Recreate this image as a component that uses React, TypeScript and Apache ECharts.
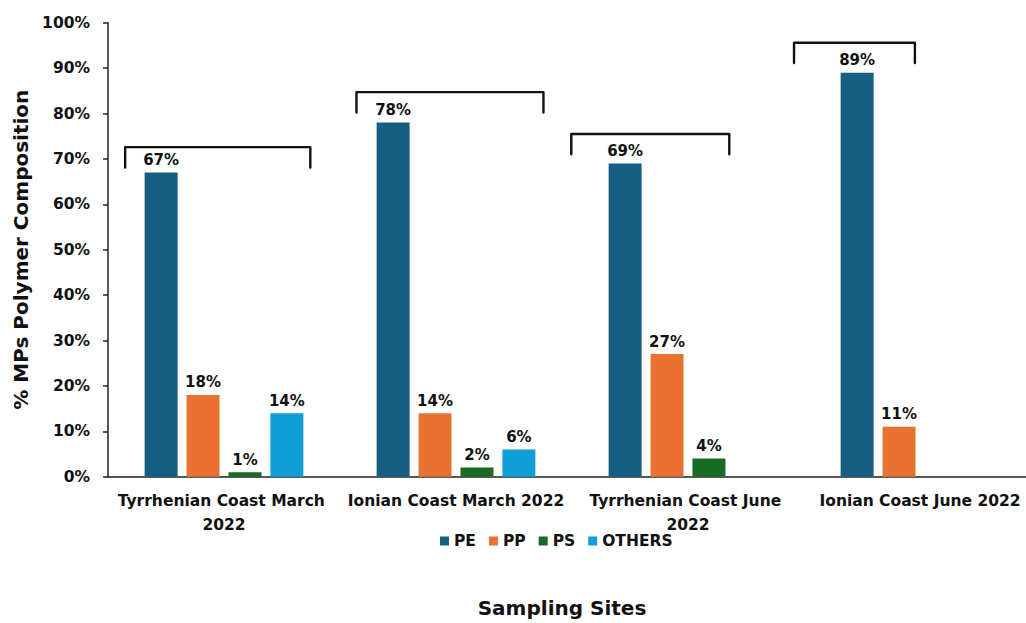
import React, { useEffect, useRef } from "react";
import * as echarts from "echarts";

// Sampling sites (x categories)
const sites = [
  "Tyrrhenian Coast March 2022",
  "Ionian Coast March 2022",
  "Tyrrhenian Coast June 2022",
  "Ionian Coast June 2022",
];

// Polymer composition (%) per site; null = polymer not found
const pe = [67, 78, 69, 89];
const pp = [18, 14, 27, 11];
const ps = [1, 2, 4, null];
const others = [14, 6, null, null];

const seriesNames = ["PE", "PP", "PS", "OTHERS"];
const seriesColors = ["#156082", "#E97132", "#196B24", "#0F9ED5"];

// Y axis ticks
const yMin = 0;
const yMax = 100;
const yStep = 10;

// Bracket annotations over each site: [from, to] in category units, top in %
const bracketRanges: [number, number][] = [
  [-0.426, 0.372],
  [0.571, 1.377],
  [1.497, 2.178],
  [2.457, 2.978],
];
const bracketTops = [72.6, 84.7, 75.5, 95.6];
const bracketDrop = 4.5;

const FONT = "DejaVu Sans";

export default function App() {
  const ref = useRef<HTMLDivElement>(null);

  useEffect(() => {
    if (!ref.current) return;
    const chart = echarts.init(ref.current, null, { renderer: "svg" });
    const values = [pe, pp, ps, others];

    chart.setOption({
      animation: false,
      backgroundColor: "#ffffff",
      textStyle: { fontFamily: FONT },
      grid: {
        left: 108,
        right: -10,
        top: 22.7,
        bottom: 146.3,
        containLabel: false,
        outerBoundsMode: "none",
      },
      legend: {
        data: seriesNames,
        top: 528,
        left: 435,
        icon: "rect",
        itemWidth: 9,
        itemHeight: 9,
        itemGap: 13,
        textStyle: { fontFamily: FONT, fontWeight: "bold", fontSize: 15.5, color: "#111" },
      },
      xAxis: {
        type: "category",
        data: sites,
        name: "Sampling Sites",
        nameLocation: "middle",
        nameGap: 121,
        nameTextStyle: {
          fontFamily: FONT,
          fontWeight: "bold",
          fontSize: 20,
          color: "#111",
          padding: [0, 20, 0, 0],
        },
        axisLine: { lineStyle: { color: "#222", width: 1.5 } },
        axisTick: { show: false },
        axisLabel: {
          interval: 0,
          margin: 12,
          width: 225,
          overflow: "break",
          lineHeight: 24,
          fontFamily: FONT,
          fontWeight: "bold",
          fontSize: 15.5,
          color: "#111",
        },
      },
      yAxis: {
        type: "value",
        min: yMin,
        max: yMax,
        interval: yStep,
        name: "% MPs Polymer Composition",
        nameLocation: "middle",
        nameGap: 77,
        nameTextStyle: { fontFamily: FONT, fontWeight: "bold", fontSize: 20, color: "#111" },
        axisLine: { show: true, lineStyle: { color: "#222", width: 1.5 } },
        axisTick: { show: true, length: 5, lineStyle: { color: "#222", width: 1.5 } },
        splitLine: { show: false },
        axisLabel: {
          formatter: "{value}%",
          margin: 18,
          fontFamily: FONT,
          fontWeight: "bold",
          fontSize: 15.5,
          color: "#111",
        },
      },
      series: seriesNames.map((name, i) => ({
        name,
        type: "bar",
        barWidth: 33,
        barGap: "27%",
        data: values[i].map((v) => (v == null ? "-" : v)),
        itemStyle: { color: seriesColors[i] },
        label: {
          show: true,
          position: "top",
          distance: 5,
          formatter: "{c}%",
          fontFamily: FONT,
          fontWeight: "bold",
          fontSize: 15,
          color: "#111",
        },
      })),
    });

    // Brackets over each group, positioned through the chart's own scales
    const x0 = chart.convertToPixel({ xAxisIndex: 0 }, 0) as number;
    const x1 = chart.convertToPixel({ xAxisIndex: 0 }, 1) as number;
    const step = x1 - x0;
    const toX = (c: number) => x0 + c * step;
    const toY = (v: number) => chart.convertToPixel({ yAxisIndex: 0 }, v) as number;

    const brackets = bracketRanges.map(([a, b], i) => {
      const top = toY(bracketTops[i]);
      const bottom = toY(bracketTops[i] - bracketDrop);
      return {
        type: "polyline",
        silent: true,
        shape: {
          points: [
            [toX(a), bottom],
            [toX(a), top],
            [toX(b), top],
            [toX(b), bottom],
          ],
        },
        style: { stroke: "#111", lineWidth: 2.4, fill: "none", lineJoin: "round", lineCap: "round" },
        z: 10,
      };
    });
    chart.setOption({ graphic: brackets });

    return () => chart.dispose();
  }, []);

  return (
    <div
      ref={ref}
      style={{ position: "fixed", left: 0, top: 0, width: 1026, height: 623 }}
    />
  );
}
